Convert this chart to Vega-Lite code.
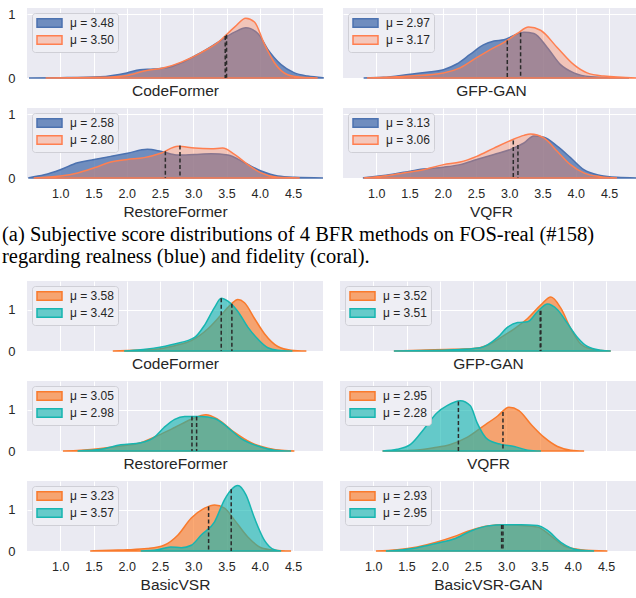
{
  "$schema": "https://vega.github.io/schema/vega-lite/v6.json",
  "background": "white",
  "padding": {"left": 2, "top": 8, "right": 0, "bottom": 0},
  "autosize": {"type": "pad"},
  "config": {
    "view": {"fill": "#eaeaf2", "stroke": null},
    "axis": {"domain": false, "ticks": false, "gridColor": "#ffffff", "gridWidth": 1, "labelFont": "Liberation Sans", "labelFontSize": 12.5, "labelColor": "#262626", "titleFont": "Liberation Sans", "titleFontSize": 15.5, "titleFontWeight": "normal", "titleColor": "#262626"},
    "axisX": {"labelPadding": 9, "titlePadding": 5},
    "axisY": {"labelPadding": 12, "labelFontSize": 13, "format": "d", "minExtent": 0},
    "legend": {"orient": "top-left", "offset": 5, "padding": 4, "fillColor": "#eeeef4", "strokeColor": "#cfcfd6", "cornerRadius": 3, "symbolType": "M-1,-0.85H4V0.85H-1Z", "symbolSize": 100, "symbolStrokeWidth": 1.5, "labelFont": "Liberation Sans", "labelFontSize": 12, "labelColor": "#262626", "labelOffset": 22, "rowPadding": 1},
    "title": {"font": "Liberation Serif", "fontSize": 20.5, "fontWeight": "normal", "color": "#000000"}
  },
  "datasets": {
    "curves": [
      {"p":"a1","o":1,"lab":"μ = 3.48","x":0.53,"y":0},{"p":"a1","o":1,"lab":"μ = 3.48","x":1.0,"y":0.005},{"p":"a1","o":1,"lab":"μ = 3.48","x":1.6,"y":0.02},{"p":"a1","o":1,"lab":"μ = 3.48","x":2.0,"y":0.08},{"p":"a1","o":1,"lab":"μ = 3.48","x":2.2,"y":0.13},{"p":"a1","o":1,"lab":"μ = 3.48","x":2.4,"y":0.14},{"p":"a1","o":1,"lab":"μ = 3.48","x":2.6,"y":0.16},{"p":"a1","o":1,"lab":"μ = 3.48","x":2.8,"y":0.23},{"p":"a1","o":1,"lab":"μ = 3.48","x":3.1,"y":0.39},{"p":"a1","o":1,"lab":"μ = 3.48","x":3.37,"y":0.56},{"p":"a1","o":1,"lab":"μ = 3.48","x":3.62,"y":0.72},{"p":"a1","o":1,"lab":"μ = 3.48","x":3.79,"y":0.79},{"p":"a1","o":1,"lab":"μ = 3.48","x":3.97,"y":0.70},{"p":"a1","o":1,"lab":"μ = 3.48","x":4.12,"y":0.45},{"p":"a1","o":1,"lab":"μ = 3.48","x":4.32,"y":0.21},{"p":"a1","o":1,"lab":"μ = 3.48","x":4.52,"y":0.08},{"p":"a1","o":1,"lab":"μ = 3.48","x":4.72,"y":0.03},{"p":"a1","o":1,"lab":"μ = 3.48","x":4.95,"y":0.005},
      {"p":"a1","o":2,"lab":"μ = 3.50","x":0.78,"y":0},{"p":"a1","o":2,"lab":"μ = 3.50","x":1.6,"y":0.01},{"p":"a1","o":2,"lab":"μ = 3.50","x":2.0,"y":0.04},{"p":"a1","o":2,"lab":"μ = 3.50","x":2.26,"y":0.11},{"p":"a1","o":2,"lab":"μ = 3.50","x":2.56,"y":0.16},{"p":"a1","o":2,"lab":"μ = 3.50","x":2.82,"y":0.25},{"p":"a1","o":2,"lab":"μ = 3.50","x":3.12,"y":0.40},{"p":"a1","o":2,"lab":"μ = 3.50","x":3.37,"y":0.56},{"p":"a1","o":2,"lab":"μ = 3.50","x":3.62,"y":0.80},{"p":"a1","o":2,"lab":"μ = 3.50","x":3.79,"y":0.94},{"p":"a1","o":2,"lab":"μ = 3.50","x":3.92,"y":0.88},{"p":"a1","o":2,"lab":"μ = 3.50","x":4.07,"y":0.53},{"p":"a1","o":2,"lab":"μ = 3.50","x":4.22,"y":0.24},{"p":"a1","o":2,"lab":"μ = 3.50","x":4.42,"y":0.05},{"p":"a1","o":2,"lab":"μ = 3.50","x":4.62,"y":0.01},{"p":"a1","o":2,"lab":"μ = 3.50","x":4.87,"y":0},

      {"p":"a2","o":1,"lab":"μ = 2.58","x":0.53,"y":0.005},{"p":"a2","o":1,"lab":"μ = 2.58","x":0.76,"y":0.05},{"p":"a2","o":1,"lab":"μ = 2.58","x":1.0,"y":0.13},{"p":"a2","o":1,"lab":"μ = 2.58","x":1.26,"y":0.24},{"p":"a2","o":1,"lab":"μ = 2.58","x":1.51,"y":0.29},{"p":"a2","o":1,"lab":"μ = 2.58","x":1.76,"y":0.34},{"p":"a2","o":1,"lab":"μ = 2.58","x":2.01,"y":0.39},{"p":"a2","o":1,"lab":"μ = 2.58","x":2.31,"y":0.45},{"p":"a2","o":1,"lab":"μ = 2.58","x":2.51,"y":0.42},{"p":"a2","o":1,"lab":"μ = 2.58","x":2.77,"y":0.36},{"p":"a2","o":1,"lab":"μ = 2.58","x":3.02,"y":0.37},{"p":"a2","o":1,"lab":"μ = 2.58","x":3.27,"y":0.38},{"p":"a2","o":1,"lab":"μ = 2.58","x":3.52,"y":0.36},{"p":"a2","o":1,"lab":"μ = 2.58","x":3.77,"y":0.24},{"p":"a2","o":1,"lab":"μ = 2.58","x":4.02,"y":0.11},{"p":"a2","o":1,"lab":"μ = 2.58","x":4.27,"y":0.03},{"p":"a2","o":1,"lab":"μ = 2.58","x":4.52,"y":0.01},{"p":"a2","o":1,"lab":"μ = 2.58","x":4.95,"y":0},
      {"p":"a2","o":2,"lab":"μ = 2.80","x":0.6,"y":0},{"p":"a2","o":2,"lab":"μ = 2.80","x":1.0,"y":0.03},{"p":"a2","o":2,"lab":"μ = 2.80","x":1.26,"y":0.08},{"p":"a2","o":2,"lab":"μ = 2.80","x":1.51,"y":0.16},{"p":"a2","o":2,"lab":"μ = 2.80","x":1.76,"y":0.25},{"p":"a2","o":2,"lab":"μ = 2.80","x":2.01,"y":0.29},{"p":"a2","o":2,"lab":"μ = 2.80","x":2.26,"y":0.32},{"p":"a2","o":2,"lab":"μ = 2.80","x":2.51,"y":0.39},{"p":"a2","o":2,"lab":"μ = 2.80","x":2.77,"y":0.50},{"p":"a2","o":2,"lab":"μ = 2.80","x":3.02,"y":0.47},{"p":"a2","o":2,"lab":"μ = 2.80","x":3.27,"y":0.46},{"p":"a2","o":2,"lab":"μ = 2.80","x":3.44,"y":0.47},{"p":"a2","o":2,"lab":"μ = 2.80","x":3.62,"y":0.37},{"p":"a2","o":2,"lab":"μ = 2.80","x":3.82,"y":0.21},{"p":"a2","o":2,"lab":"μ = 2.80","x":4.02,"y":0.08},{"p":"a2","o":2,"lab":"μ = 2.80","x":4.27,"y":0.01},{"p":"a2","o":2,"lab":"μ = 2.80","x":4.6,"y":0},

      {"p":"a3","o":1,"lab":"μ = 2.97","x":0.81,"y":0},{"p":"a3","o":1,"lab":"μ = 2.97","x":1.11,"y":0.01},{"p":"a3","o":1,"lab":"μ = 2.97","x":1.51,"y":0.06},{"p":"a3","o":1,"lab":"μ = 2.97","x":1.76,"y":0.09},{"p":"a3","o":1,"lab":"μ = 2.97","x":2.01,"y":0.13},{"p":"a3","o":1,"lab":"μ = 2.97","x":2.21,"y":0.22},{"p":"a3","o":1,"lab":"μ = 2.97","x":2.41,"y":0.37},{"p":"a3","o":1,"lab":"μ = 2.97","x":2.61,"y":0.52},{"p":"a3","o":1,"lab":"μ = 2.97","x":2.77,"y":0.58},{"p":"a3","o":1,"lab":"μ = 2.97","x":2.92,"y":0.60},{"p":"a3","o":1,"lab":"μ = 2.97","x":3.07,"y":0.67},{"p":"a3","o":1,"lab":"μ = 2.97","x":3.22,"y":0.72},{"p":"a3","o":1,"lab":"μ = 2.97","x":3.37,"y":0.70},{"p":"a3","o":1,"lab":"μ = 2.97","x":3.57,"y":0.48},{"p":"a3","o":1,"lab":"μ = 2.97","x":3.77,"y":0.21},{"p":"a3","o":1,"lab":"μ = 2.97","x":3.97,"y":0.08},{"p":"a3","o":1,"lab":"μ = 2.97","x":4.22,"y":0.02},{"p":"a3","o":1,"lab":"μ = 2.97","x":4.6,"y":0.005},{"p":"a3","o":1,"lab":"μ = 2.97","x":4.8,"y":0},
      {"p":"a3","o":2,"lab":"μ = 3.17","x":0.86,"y":0},{"p":"a3","o":2,"lab":"μ = 3.17","x":1.51,"y":0.03},{"p":"a3","o":2,"lab":"μ = 3.17","x":2.01,"y":0.08},{"p":"a3","o":2,"lab":"μ = 3.17","x":2.26,"y":0.16},{"p":"a3","o":2,"lab":"μ = 3.17","x":2.51,"y":0.32},{"p":"a3","o":2,"lab":"μ = 3.17","x":2.72,"y":0.45},{"p":"a3","o":2,"lab":"μ = 3.17","x":2.92,"y":0.56},{"p":"a3","o":2,"lab":"μ = 3.17","x":3.12,"y":0.70},{"p":"a3","o":2,"lab":"μ = 3.17","x":3.29,"y":0.80},{"p":"a3","o":2,"lab":"μ = 3.17","x":3.47,"y":0.75},{"p":"a3","o":2,"lab":"μ = 3.17","x":3.72,"y":0.48},{"p":"a3","o":2,"lab":"μ = 3.17","x":3.97,"y":0.21},{"p":"a3","o":2,"lab":"μ = 3.17","x":4.17,"y":0.08},{"p":"a3","o":2,"lab":"μ = 3.17","x":4.42,"y":0.03},{"p":"a3","o":2,"lab":"μ = 3.17","x":4.92,"y":0},

      {"p":"a4","o":1,"lab":"μ = 3.13","x":0.81,"y":0.005},{"p":"a4","o":1,"lab":"μ = 3.13","x":0.95,"y":0.02},{"p":"a4","o":1,"lab":"μ = 3.13","x":1.11,"y":0.04},{"p":"a4","o":1,"lab":"μ = 3.13","x":1.41,"y":0.09},{"p":"a4","o":1,"lab":"μ = 3.13","x":1.71,"y":0.14},{"p":"a4","o":1,"lab":"μ = 3.13","x":2.01,"y":0.17},{"p":"a4","o":1,"lab":"μ = 3.13","x":2.26,"y":0.21},{"p":"a4","o":1,"lab":"μ = 3.13","x":2.51,"y":0.29},{"p":"a4","o":1,"lab":"μ = 3.13","x":2.77,"y":0.37},{"p":"a4","o":1,"lab":"μ = 3.13","x":3.02,"y":0.45},{"p":"a4","o":1,"lab":"μ = 3.13","x":3.22,"y":0.55},{"p":"a4","o":1,"lab":"μ = 3.13","x":3.37,"y":0.66},{"p":"a4","o":1,"lab":"μ = 3.13","x":3.52,"y":0.64},{"p":"a4","o":1,"lab":"μ = 3.13","x":3.72,"y":0.50},{"p":"a4","o":1,"lab":"μ = 3.13","x":3.92,"y":0.32},{"p":"a4","o":1,"lab":"μ = 3.13","x":4.12,"y":0.13},{"p":"a4","o":1,"lab":"μ = 3.13","x":4.37,"y":0.04},{"p":"a4","o":1,"lab":"μ = 3.13","x":4.62,"y":0.01},{"p":"a4","o":1,"lab":"μ = 3.13","x":4.95,"y":0},
      {"p":"a4","o":2,"lab":"μ = 3.06","x":0.81,"y":0},{"p":"a4","o":2,"lab":"μ = 3.06","x":1.11,"y":0.03},{"p":"a4","o":2,"lab":"μ = 3.06","x":1.41,"y":0.08},{"p":"a4","o":2,"lab":"μ = 3.06","x":1.71,"y":0.13},{"p":"a4","o":2,"lab":"μ = 3.06","x":2.01,"y":0.21},{"p":"a4","o":2,"lab":"μ = 3.06","x":2.26,"y":0.25},{"p":"a4","o":2,"lab":"μ = 3.06","x":2.51,"y":0.34},{"p":"a4","o":2,"lab":"μ = 3.06","x":2.77,"y":0.47},{"p":"a4","o":2,"lab":"μ = 3.06","x":3.02,"y":0.59},{"p":"a4","o":2,"lab":"μ = 3.06","x":3.22,"y":0.67},{"p":"a4","o":2,"lab":"μ = 3.06","x":3.32,"y":0.69},{"p":"a4","o":2,"lab":"μ = 3.06","x":3.52,"y":0.63},{"p":"a4","o":2,"lab":"μ = 3.06","x":3.72,"y":0.42},{"p":"a4","o":2,"lab":"μ = 3.06","x":3.92,"y":0.21},{"p":"a4","o":2,"lab":"μ = 3.06","x":4.12,"y":0.08},{"p":"a4","o":2,"lab":"μ = 3.06","x":4.37,"y":0.02},{"p":"a4","o":2,"lab":"μ = 3.06","x":4.62,"y":0},

      {"p":"b1","o":1,"lab":"μ = 3.58","x":1.79,"y":0},{"p":"b1","o":1,"lab":"μ = 3.58","x":2.11,"y":0.02},{"p":"b1","o":1,"lab":"μ = 3.58","x":2.41,"y":0.04},{"p":"b1","o":1,"lab":"μ = 3.58","x":2.72,"y":0.13},{"p":"b1","o":1,"lab":"μ = 3.58","x":2.97,"y":0.25},{"p":"b1","o":1,"lab":"μ = 3.58","x":3.22,"y":0.54},{"p":"b1","o":1,"lab":"μ = 3.58","x":3.42,"y":0.88},{"p":"b1","o":1,"lab":"μ = 3.58","x":3.57,"y":1.14},{"p":"b1","o":1,"lab":"μ = 3.58","x":3.67,"y":1.25},{"p":"b1","o":1,"lab":"μ = 3.58","x":3.77,"y":1.17},{"p":"b1","o":1,"lab":"μ = 3.58","x":3.92,"y":0.79},{"p":"b1","o":1,"lab":"μ = 3.58","x":4.07,"y":0.42},{"p":"b1","o":1,"lab":"μ = 3.58","x":4.27,"y":0.11},{"p":"b1","o":1,"lab":"μ = 3.58","x":4.47,"y":0.02},{"p":"b1","o":1,"lab":"μ = 3.58","x":4.7,"y":0},
      {"p":"b1","o":2,"lab":"μ = 3.42","x":1.96,"y":0},{"p":"b1","o":2,"lab":"μ = 3.42","x":2.21,"y":0.03},{"p":"b1","o":2,"lab":"μ = 3.42","x":2.41,"y":0.07},{"p":"b1","o":2,"lab":"μ = 3.42","x":2.72,"y":0.17},{"p":"b1","o":2,"lab":"μ = 3.42","x":3.02,"y":0.33},{"p":"b1","o":2,"lab":"μ = 3.42","x":3.17,"y":0.63},{"p":"b1","o":2,"lab":"μ = 3.42","x":3.32,"y":1.06},{"p":"b1","o":2,"lab":"μ = 3.42","x":3.42,"y":1.28},{"p":"b1","o":2,"lab":"μ = 3.42","x":3.52,"y":1.21},{"p":"b1","o":2,"lab":"μ = 3.42","x":3.67,"y":0.96},{"p":"b1","o":2,"lab":"μ = 3.42","x":3.82,"y":0.58},{"p":"b1","o":2,"lab":"μ = 3.42","x":3.97,"y":0.29},{"p":"b1","o":2,"lab":"μ = 3.42","x":4.12,"y":0.08},{"p":"b1","o":2,"lab":"μ = 3.42","x":4.27,"y":0.02},{"p":"b1","o":2,"lab":"μ = 3.42","x":4.49,"y":0},

      {"p":"b2","o":1,"lab":"μ = 3.05","x":1.04,"y":0},{"p":"b2","o":1,"lab":"μ = 3.05","x":1.31,"y":0.02},{"p":"b2","o":1,"lab":"μ = 3.05","x":1.61,"y":0.06},{"p":"b2","o":1,"lab":"μ = 3.05","x":1.91,"y":0.12},{"p":"b2","o":1,"lab":"μ = 3.05","x":2.21,"y":0.20},{"p":"b2","o":1,"lab":"μ = 3.05","x":2.46,"y":0.37},{"p":"b2","o":1,"lab":"μ = 3.05","x":2.72,"y":0.57},{"p":"b2","o":1,"lab":"μ = 3.05","x":2.97,"y":0.77},{"p":"b2","o":1,"lab":"μ = 3.05","x":3.19,"y":0.88},{"p":"b2","o":1,"lab":"μ = 3.05","x":3.37,"y":0.77},{"p":"b2","o":1,"lab":"μ = 3.05","x":3.62,"y":0.45},{"p":"b2","o":1,"lab":"μ = 3.05","x":3.87,"y":0.20},{"p":"b2","o":1,"lab":"μ = 3.05","x":4.12,"y":0.07},{"p":"b2","o":1,"lab":"μ = 3.05","x":4.37,"y":0.01},{"p":"b2","o":1,"lab":"μ = 3.05","x":4.52,"y":0},
      {"p":"b2","o":2,"lab":"μ = 2.98","x":1.26,"y":0},{"p":"b2","o":2,"lab":"μ = 2.98","x":1.61,"y":0.04},{"p":"b2","o":2,"lab":"μ = 2.98","x":1.91,"y":0.15},{"p":"b2","o":2,"lab":"μ = 2.98","x":2.21,"y":0.20},{"p":"b2","o":2,"lab":"μ = 2.98","x":2.41,"y":0.33},{"p":"b2","o":2,"lab":"μ = 2.98","x":2.56,"y":0.57},{"p":"b2","o":2,"lab":"μ = 2.98","x":2.72,"y":0.77},{"p":"b2","o":2,"lab":"μ = 2.98","x":2.87,"y":0.84},{"p":"b2","o":2,"lab":"μ = 2.98","x":3.12,"y":0.84},{"p":"b2","o":2,"lab":"μ = 2.98","x":3.32,"y":0.79},{"p":"b2","o":2,"lab":"μ = 2.98","x":3.52,"y":0.57},{"p":"b2","o":2,"lab":"μ = 2.98","x":3.72,"y":0.30},{"p":"b2","o":2,"lab":"μ = 2.98","x":3.97,"y":0.12},{"p":"b2","o":2,"lab":"μ = 2.98","x":4.22,"y":0.02},{"p":"b2","o":2,"lab":"μ = 2.98","x":4.47,"y":0},

      {"p":"b3","o":1,"lab":"μ = 3.52","x":1.31,"y":0},{"p":"b3","o":1,"lab":"μ = 3.52","x":1.71,"y":0.02},{"p":"b3","o":1,"lab":"μ = 3.52","x":2.21,"y":0.04},{"p":"b3","o":1,"lab":"μ = 3.52","x":2.51,"y":0.06},{"p":"b3","o":1,"lab":"μ = 3.52","x":2.72,"y":0.14},{"p":"b3","o":1,"lab":"μ = 3.52","x":2.92,"y":0.33},{"p":"b3","o":1,"lab":"μ = 3.52","x":3.12,"y":0.54},{"p":"b3","o":1,"lab":"μ = 3.52","x":3.32,"y":0.79},{"p":"b3","o":1,"lab":"μ = 3.52","x":3.52,"y":1.12},{"p":"b3","o":1,"lab":"μ = 3.52","x":3.67,"y":1.31},{"p":"b3","o":1,"lab":"μ = 3.52","x":3.82,"y":1.04},{"p":"b3","o":1,"lab":"μ = 3.52","x":3.97,"y":0.54},{"p":"b3","o":1,"lab":"μ = 3.52","x":4.12,"y":0.17},{"p":"b3","o":1,"lab":"μ = 3.52","x":4.32,"y":0.03},{"p":"b3","o":1,"lab":"μ = 3.52","x":4.57,"y":0},
      {"p":"b3","o":2,"lab":"μ = 3.51","x":1.31,"y":0},{"p":"b3","o":2,"lab":"μ = 3.51","x":2.21,"y":0.03},{"p":"b3","o":2,"lab":"μ = 3.51","x":2.61,"y":0.08},{"p":"b3","o":2,"lab":"μ = 3.51","x":2.87,"y":0.33},{"p":"b3","o":2,"lab":"μ = 3.51","x":3.02,"y":0.58},{"p":"b3","o":2,"lab":"μ = 3.51","x":3.17,"y":0.69},{"p":"b3","o":2,"lab":"μ = 3.51","x":3.32,"y":0.71},{"p":"b3","o":2,"lab":"μ = 3.51","x":3.47,"y":0.96},{"p":"b3","o":2,"lab":"μ = 3.51","x":3.62,"y":1.14},{"p":"b3","o":2,"lab":"μ = 3.51","x":3.77,"y":1.0},{"p":"b3","o":2,"lab":"μ = 3.51","x":3.92,"y":0.67},{"p":"b3","o":2,"lab":"μ = 3.51","x":4.07,"y":0.33},{"p":"b3","o":2,"lab":"μ = 3.51","x":4.22,"y":0.11},{"p":"b3","o":2,"lab":"μ = 3.51","x":4.42,"y":0.02},{"p":"b3","o":2,"lab":"μ = 3.51","x":4.57,"y":0},

      {"p":"b4","o":1,"lab":"μ = 2.95","x":1.14,"y":0},{"p":"b4","o":1,"lab":"μ = 2.95","x":1.61,"y":0.02},{"p":"b4","o":1,"lab":"μ = 2.95","x":1.91,"y":0.08},{"p":"b4","o":1,"lab":"μ = 2.95","x":2.16,"y":0.16},{"p":"b4","o":1,"lab":"μ = 2.95","x":2.41,"y":0.33},{"p":"b4","o":1,"lab":"μ = 2.95","x":2.66,"y":0.61},{"p":"b4","o":1,"lab":"μ = 2.95","x":2.87,"y":0.85},{"p":"b4","o":1,"lab":"μ = 2.95","x":3.04,"y":1.06},{"p":"b4","o":1,"lab":"μ = 2.95","x":3.19,"y":0.98},{"p":"b4","o":1,"lab":"μ = 2.95","x":3.37,"y":0.65},{"p":"b4","o":1,"lab":"μ = 2.95","x":3.57,"y":0.33},{"p":"b4","o":1,"lab":"μ = 2.95","x":3.77,"y":0.11},{"p":"b4","o":1,"lab":"μ = 2.95","x":3.97,"y":0.02},{"p":"b4","o":1,"lab":"μ = 2.95","x":4.17,"y":0},
      {"p":"b4","o":2,"lab":"μ = 2.28","x":1.14,"y":0},{"p":"b4","o":2,"lab":"μ = 2.28","x":1.36,"y":0.04},{"p":"b4","o":2,"lab":"μ = 2.28","x":1.56,"y":0.16},{"p":"b4","o":2,"lab":"μ = 2.28","x":1.76,"y":0.53},{"p":"b4","o":2,"lab":"μ = 2.28","x":1.96,"y":0.93},{"p":"b4","o":2,"lab":"μ = 2.28","x":2.11,"y":1.10},{"p":"b4","o":2,"lab":"μ = 2.28","x":2.31,"y":1.22},{"p":"b4","o":2,"lab":"μ = 2.28","x":2.46,"y":1.10},{"p":"b4","o":2,"lab":"μ = 2.28","x":2.56,"y":0.69},{"p":"b4","o":2,"lab":"μ = 2.28","x":2.72,"y":0.28},{"p":"b4","o":2,"lab":"μ = 2.28","x":2.92,"y":0.16},{"p":"b4","o":2,"lab":"μ = 2.28","x":3.12,"y":0.11},{"p":"b4","o":2,"lab":"μ = 2.28","x":3.32,"y":0.02},{"p":"b4","o":2,"lab":"μ = 2.28","x":3.52,"y":0},

      {"p":"b5","o":1,"lab":"μ = 3.23","x":1.45,"y":0},{"p":"b5","o":1,"lab":"μ = 3.23","x":1.76,"y":0.02},{"p":"b5","o":1,"lab":"μ = 3.23","x":2.01,"y":0.03},{"p":"b5","o":1,"lab":"μ = 3.23","x":2.31,"y":0.06},{"p":"b5","o":1,"lab":"μ = 3.23","x":2.56,"y":0.14},{"p":"b5","o":1,"lab":"μ = 3.23","x":2.77,"y":0.39},{"p":"b5","o":1,"lab":"μ = 3.23","x":2.97,"y":0.80},{"p":"b5","o":1,"lab":"μ = 3.23","x":3.17,"y":1.04},{"p":"b5","o":1,"lab":"μ = 3.23","x":3.32,"y":1.12},{"p":"b5","o":1,"lab":"μ = 3.23","x":3.47,"y":1.04},{"p":"b5","o":1,"lab":"μ = 3.23","x":3.62,"y":0.75},{"p":"b5","o":1,"lab":"μ = 3.23","x":3.82,"y":0.34},{"p":"b5","o":1,"lab":"μ = 3.23","x":4.02,"y":0.08},{"p":"b5","o":1,"lab":"μ = 3.23","x":4.22,"y":0.02},{"p":"b5","o":1,"lab":"μ = 3.23","x":4.47,"y":0},
      {"p":"b5","o":2,"lab":"μ = 3.57","x":2.21,"y":0},{"p":"b5","o":2,"lab":"μ = 3.57","x":2.46,"y":0.03},{"p":"b5","o":2,"lab":"μ = 3.57","x":2.66,"y":0.10},{"p":"b5","o":2,"lab":"μ = 3.57","x":2.82,"y":0.08},{"p":"b5","o":2,"lab":"μ = 3.57","x":2.97,"y":0.14},{"p":"b5","o":2,"lab":"μ = 3.57","x":3.12,"y":0.39},{"p":"b5","o":2,"lab":"μ = 3.57","x":3.32,"y":0.71},{"p":"b5","o":2,"lab":"μ = 3.57","x":3.47,"y":1.25},{"p":"b5","o":2,"lab":"μ = 3.57","x":3.57,"y":1.49},{"p":"b5","o":2,"lab":"μ = 3.57","x":3.67,"y":1.59},{"p":"b5","o":2,"lab":"μ = 3.57","x":3.79,"y":1.37},{"p":"b5","o":2,"lab":"μ = 3.57","x":3.92,"y":0.80},{"p":"b5","o":2,"lab":"μ = 3.57","x":4.07,"y":0.26},{"p":"b5","o":2,"lab":"μ = 3.57","x":4.22,"y":0.03},{"p":"b5","o":2,"lab":"μ = 3.57","x":4.32,"y":0},

      {"p":"b6","o":1,"lab":"μ = 2.93","x":1.04,"y":0},{"p":"b6","o":1,"lab":"μ = 2.93","x":1.36,"y":0.03},{"p":"b6","o":1,"lab":"μ = 2.93","x":1.66,"y":0.10},{"p":"b6","o":1,"lab":"μ = 2.93","x":1.96,"y":0.22},{"p":"b6","o":1,"lab":"μ = 2.93","x":2.21,"y":0.35},{"p":"b6","o":1,"lab":"μ = 2.93","x":2.46,"y":0.50},{"p":"b6","o":1,"lab":"μ = 2.93","x":2.72,"y":0.61},{"p":"b6","o":1,"lab":"μ = 2.93","x":2.97,"y":0.64},{"p":"b6","o":1,"lab":"μ = 2.93","x":3.22,"y":0.62},{"p":"b6","o":1,"lab":"μ = 2.93","x":3.47,"y":0.58},{"p":"b6","o":1,"lab":"μ = 2.93","x":3.67,"y":0.37},{"p":"b6","o":1,"lab":"μ = 2.93","x":3.87,"y":0.12},{"p":"b6","o":1,"lab":"μ = 2.93","x":4.12,"y":0.03},{"p":"b6","o":1,"lab":"μ = 2.93","x":4.52,"y":0},
      {"p":"b6","o":2,"lab":"μ = 2.95","x":1.19,"y":0},{"p":"b6","o":2,"lab":"μ = 2.95","x":1.36,"y":0.02},{"p":"b6","o":2,"lab":"μ = 2.95","x":1.66,"y":0.08},{"p":"b6","o":2,"lab":"μ = 2.95","x":1.96,"y":0.19},{"p":"b6","o":2,"lab":"μ = 2.95","x":2.21,"y":0.29},{"p":"b6","o":2,"lab":"μ = 2.95","x":2.46,"y":0.48},{"p":"b6","o":2,"lab":"μ = 2.95","x":2.72,"y":0.61},{"p":"b6","o":2,"lab":"μ = 2.95","x":2.97,"y":0.64},{"p":"b6","o":2,"lab":"μ = 2.95","x":3.22,"y":0.64},{"p":"b6","o":2,"lab":"μ = 2.95","x":3.47,"y":0.62},{"p":"b6","o":2,"lab":"μ = 2.95","x":3.62,"y":0.50},{"p":"b6","o":2,"lab":"μ = 2.95","x":3.82,"y":0.21},{"p":"b6","o":2,"lab":"μ = 2.95","x":4.07,"y":0.03},{"p":"b6","o":2,"lab":"μ = 2.95","x":4.32,"y":0}
    ],
    "means": [
      {"p":"a1","o":1,"m":3.48,"h":0.66},{"p":"a1","o":2,"m":3.50,"h":0.68},
      {"p":"a2","o":1,"m":2.58,"h":0.42},{"p":"a2","o":2,"m":2.80,"h":0.51},
      {"p":"a3","o":1,"m":2.97,"h":0.59},{"p":"a3","o":2,"m":3.17,"h":0.71},
      {"p":"a4","o":1,"m":3.13,"h":0.52},{"p":"a4","o":2,"m":3.06,"h":0.59},
      {"p":"b1","o":1,"m":3.58,"h":1.15},{"p":"b1","o":2,"m":3.42,"h":1.28},
      {"p":"b2","o":1,"m":3.05,"h":0.84},{"p":"b2","o":2,"m":2.98,"h":0.84},
      {"p":"b3","o":1,"m":3.52,"h":0.98},{"p":"b3","o":2,"m":3.51,"h":0.97},
      {"p":"b4","o":1,"m":2.95,"h":0.95},{"p":"b4","o":2,"m":2.28,"h":1.2},
      {"p":"b5","o":1,"m":3.23,"h":1.08},{"p":"b5","o":2,"m":3.57,"h":1.5},
      {"p":"b6","o":1,"m":2.93,"h":0.63},{"p":"b6","o":2,"m":2.95,"h":0.63}
    ]
  },
  "resolve": {"scale": {"fill": "independent", "stroke": "independent"}},
  "spacing": 13,
  "vconcat": [
    {
      "spacing": 9,
      "resolve": {"scale": {"fill": "independent", "stroke": "independent"}},
      "title": {"text": ["(a) Subjective score distributions of 4 BFR methods on FOS-real (#158)", "regarding realness (blue) and fidelity (coral)."], "orient": "bottom", "anchor": "start", "frame": "group", "dx": -25, "offset": 5, "lineHeight": 22},
      "vconcat": [
        {
          "spacing": 17,
          "resolve": {"scale": {"fill": "independent", "stroke": "independent"}},
          "hconcat": [
            {"width": 296, "height": 70, "layer": [
              {"data": {"name": "curves"}, "transform": [{"filter": "datum.p == 'a1'"}], "mark": {"type": "area", "interpolate": "monotone", "strokeWidth": 1.5}, "encoding": {
                "x": {"field": "x", "type": "quantitative", "scale": {"domain": [0.5, 4.95], "nice": false, "zero": false}, "axis": {"title": "CodeFormer", "values": [1, 1.5, 2, 2.5, 3, 3.5, 4, 4.5], "format": ".1f", "labels": false}},
                "y": {"field": "y", "type": "quantitative", "stack": null, "scale": {"domain": [0, 1.1], "nice": false}, "axis": {"title": null, "values": [0, 1], "labels": true}},
                "fill": {"field": "lab", "type": "nominal", "sort": {"field": "o", "op": "min"}, "scale": {"range": ["rgba(76,114,176,0.78)", "rgba(255,127,80,0.35)"]}, "legend": {"title": null}},
                "stroke": {"field": "lab", "type": "nominal", "sort": {"field": "o", "op": "min"}, "scale": {"range": ["#4c72b0", "#ff7f50"]}, "legend": {"title": null}}}},
              {"data": {"name": "means"}, "transform": [{"filter": "datum.p == 'a1'"}], "mark": {"type": "rule", "color": "#2b2b2b", "strokeWidth": 1.5, "strokeDash": [4, 2.5]}, "encoding": {"x": {"field": "m", "type": "quantitative"}, "y": {"field": "h", "type": "quantitative"}, "y2": {"datum": 0}}}
            ]},
            {"width": 296, "height": 70, "layer": [
              {"data": {"name": "curves"}, "transform": [{"filter": "datum.p == 'a3'"}], "mark": {"type": "area", "interpolate": "monotone", "strokeWidth": 1.5}, "encoding": {
                "x": {"field": "x", "type": "quantitative", "scale": {"domain": [0.5, 4.95], "nice": false, "zero": false}, "axis": {"title": "GFP-GAN", "values": [1, 1.5, 2, 2.5, 3, 3.5, 4, 4.5], "format": ".1f", "labels": false}},
                "y": {"field": "y", "type": "quantitative", "stack": null, "scale": {"domain": [0, 1.1], "nice": false}, "axis": {"title": null, "values": [0, 1], "labels": false}},
                "fill": {"field": "lab", "type": "nominal", "sort": {"field": "o", "op": "min"}, "scale": {"range": ["rgba(76,114,176,0.78)", "rgba(255,127,80,0.35)"]}, "legend": {"title": null}},
                "stroke": {"field": "lab", "type": "nominal", "sort": {"field": "o", "op": "min"}, "scale": {"range": ["#4c72b0", "#ff7f50"]}, "legend": {"title": null}}}},
              {"data": {"name": "means"}, "transform": [{"filter": "datum.p == 'a3'"}], "mark": {"type": "rule", "color": "#2b2b2b", "strokeWidth": 1.5, "strokeDash": [4, 2.5]}, "encoding": {"x": {"field": "m", "type": "quantitative"}, "y": {"field": "h", "type": "quantitative"}, "y2": {"datum": 0}}}
            ]}
          ]
        },
        {
          "spacing": 17,
          "resolve": {"scale": {"fill": "independent", "stroke": "independent"}},
          "hconcat": [
            {"width": 296, "height": 70, "layer": [
              {"data": {"name": "curves"}, "transform": [{"filter": "datum.p == 'a2'"}], "mark": {"type": "area", "interpolate": "monotone", "strokeWidth": 1.5}, "encoding": {
                "x": {"field": "x", "type": "quantitative", "scale": {"domain": [0.5, 4.95], "nice": false, "zero": false}, "axis": {"title": "RestoreFormer", "values": [1, 1.5, 2, 2.5, 3, 3.5, 4, 4.5], "format": ".1f", "labels": true}},
                "y": {"field": "y", "type": "quantitative", "stack": null, "scale": {"domain": [0, 1.1], "nice": false}, "axis": {"title": null, "values": [0, 1], "labels": true}},
                "fill": {"field": "lab", "type": "nominal", "sort": {"field": "o", "op": "min"}, "scale": {"range": ["rgba(76,114,176,0.78)", "rgba(255,127,80,0.35)"]}, "legend": {"title": null}},
                "stroke": {"field": "lab", "type": "nominal", "sort": {"field": "o", "op": "min"}, "scale": {"range": ["#4c72b0", "#ff7f50"]}, "legend": {"title": null}}}},
              {"data": {"name": "means"}, "transform": [{"filter": "datum.p == 'a2'"}], "mark": {"type": "rule", "color": "#2b2b2b", "strokeWidth": 1.5, "strokeDash": [4, 2.5]}, "encoding": {"x": {"field": "m", "type": "quantitative"}, "y": {"field": "h", "type": "quantitative"}, "y2": {"datum": 0}}}
            ]},
            {"width": 296, "height": 70, "layer": [
              {"data": {"name": "curves"}, "transform": [{"filter": "datum.p == 'a4'"}], "mark": {"type": "area", "interpolate": "monotone", "strokeWidth": 1.5}, "encoding": {
                "x": {"field": "x", "type": "quantitative", "scale": {"domain": [0.5, 4.95], "nice": false, "zero": false}, "axis": {"title": "VQFR", "values": [1, 1.5, 2, 2.5, 3, 3.5, 4, 4.5], "format": ".1f", "labels": true}},
                "y": {"field": "y", "type": "quantitative", "stack": null, "scale": {"domain": [0, 1.1], "nice": false}, "axis": {"title": null, "values": [0, 1], "labels": false}},
                "fill": {"field": "lab", "type": "nominal", "sort": {"field": "o", "op": "min"}, "scale": {"range": ["rgba(76,114,176,0.78)", "rgba(255,127,80,0.35)"]}, "legend": {"title": null}},
                "stroke": {"field": "lab", "type": "nominal", "sort": {"field": "o", "op": "min"}, "scale": {"range": ["#4c72b0", "#ff7f50"]}, "legend": {"title": null}}}},
              {"data": {"name": "means"}, "transform": [{"filter": "datum.p == 'a4'"}], "mark": {"type": "rule", "color": "#2b2b2b", "strokeWidth": 1.5, "strokeDash": [4, 2.5]}, "encoding": {"x": {"field": "m", "type": "quantitative"}, "y": {"field": "h", "type": "quantitative"}, "y2": {"datum": 0}}}
            ]}
          ]
        }
      ]
    },
    {
      "spacing": 9,
      "resolve": {"scale": {"fill": "independent", "stroke": "independent"}},
      "vconcat": [
        {
          "spacing": 17,
          "resolve": {"scale": {"fill": "independent", "stroke": "independent"}},
          "hconcat": [
            {"width": 296, "height": 70, "layer": [
              {"data": {"name": "curves"}, "transform": [{"filter": "datum.p == 'b1'"}], "mark": {"type": "area", "interpolate": "monotone", "strokeWidth": 1.5}, "encoding": {
                "x": {"field": "x", "type": "quantitative", "scale": {"domain": [0.5, 4.95], "nice": false, "zero": false}, "axis": {"title": "CodeFormer", "values": [1, 1.5, 2, 2.5, 3, 3.5, 4, 4.5], "format": ".1f", "labels": false}},
                "y": {"field": "y", "type": "quantitative", "stack": null, "scale": {"domain": [0, 1.7], "nice": false}, "axis": {"title": null, "values": [0, 1], "labels": true}},
                "fill": {"field": "lab", "type": "nominal", "sort": {"field": "o", "op": "min"}, "scale": {"range": ["rgba(251,125,42,0.65)", "rgba(18,181,176,0.62)"]}, "legend": {"title": null}},
                "stroke": {"field": "lab", "type": "nominal", "sort": {"field": "o", "op": "min"}, "scale": {"range": ["#f97a2c", "#17b5b0"]}, "legend": {"title": null}}}},
              {"data": {"name": "means"}, "transform": [{"filter": "datum.p == 'b1'"}], "mark": {"type": "rule", "color": "#2b2b2b", "strokeWidth": 1.5, "strokeDash": [4, 2.5]}, "encoding": {"x": {"field": "m", "type": "quantitative"}, "y": {"field": "h", "type": "quantitative"}, "y2": {"datum": 0}}}
            ]},
            {"width": 296, "height": 70, "layer": [
              {"data": {"name": "curves"}, "transform": [{"filter": "datum.p == 'b3'"}], "mark": {"type": "area", "interpolate": "monotone", "strokeWidth": 1.5}, "encoding": {
                "x": {"field": "x", "type": "quantitative", "scale": {"domain": [0.5, 4.95], "nice": false, "zero": false}, "axis": {"title": "GFP-GAN", "values": [1, 1.5, 2, 2.5, 3, 3.5, 4, 4.5], "format": ".1f", "labels": false}},
                "y": {"field": "y", "type": "quantitative", "stack": null, "scale": {"domain": [0, 1.7], "nice": false}, "axis": {"title": null, "values": [0, 1], "labels": false}},
                "fill": {"field": "lab", "type": "nominal", "sort": {"field": "o", "op": "min"}, "scale": {"range": ["rgba(251,125,42,0.65)", "rgba(18,181,176,0.62)"]}, "legend": {"title": null}},
                "stroke": {"field": "lab", "type": "nominal", "sort": {"field": "o", "op": "min"}, "scale": {"range": ["#f97a2c", "#17b5b0"]}, "legend": {"title": null}}}},
              {"data": {"name": "means"}, "transform": [{"filter": "datum.p == 'b3'"}], "mark": {"type": "rule", "color": "#2b2b2b", "strokeWidth": 1.5, "strokeDash": [4, 2.5]}, "encoding": {"x": {"field": "m", "type": "quantitative"}, "y": {"field": "h", "type": "quantitative"}, "y2": {"datum": 0}}}
            ]}
          ]
        },
        {
          "spacing": 17,
          "resolve": {"scale": {"fill": "independent", "stroke": "independent"}},
          "hconcat": [
            {"width": 296, "height": 70, "layer": [
              {"data": {"name": "curves"}, "transform": [{"filter": "datum.p == 'b2'"}], "mark": {"type": "area", "interpolate": "monotone", "strokeWidth": 1.5}, "encoding": {
                "x": {"field": "x", "type": "quantitative", "scale": {"domain": [0.5, 4.95], "nice": false, "zero": false}, "axis": {"title": "RestoreFormer", "values": [1, 1.5, 2, 2.5, 3, 3.5, 4, 4.5], "format": ".1f", "labels": false}},
                "y": {"field": "y", "type": "quantitative", "stack": null, "scale": {"domain": [0, 1.7], "nice": false}, "axis": {"title": null, "values": [0, 1], "labels": true}},
                "fill": {"field": "lab", "type": "nominal", "sort": {"field": "o", "op": "min"}, "scale": {"range": ["rgba(251,125,42,0.65)", "rgba(18,181,176,0.62)"]}, "legend": {"title": null}},
                "stroke": {"field": "lab", "type": "nominal", "sort": {"field": "o", "op": "min"}, "scale": {"range": ["#f97a2c", "#17b5b0"]}, "legend": {"title": null}}}},
              {"data": {"name": "means"}, "transform": [{"filter": "datum.p == 'b2'"}], "mark": {"type": "rule", "color": "#2b2b2b", "strokeWidth": 1.5, "strokeDash": [4, 2.5]}, "encoding": {"x": {"field": "m", "type": "quantitative"}, "y": {"field": "h", "type": "quantitative"}, "y2": {"datum": 0}}}
            ]},
            {"width": 296, "height": 70, "layer": [
              {"data": {"name": "curves"}, "transform": [{"filter": "datum.p == 'b4'"}], "mark": {"type": "area", "interpolate": "monotone", "strokeWidth": 1.5}, "encoding": {
                "x": {"field": "x", "type": "quantitative", "scale": {"domain": [0.5, 4.95], "nice": false, "zero": false}, "axis": {"title": "VQFR", "values": [1, 1.5, 2, 2.5, 3, 3.5, 4, 4.5], "format": ".1f", "labels": false}},
                "y": {"field": "y", "type": "quantitative", "stack": null, "scale": {"domain": [0, 1.7], "nice": false}, "axis": {"title": null, "values": [0, 1], "labels": false}},
                "fill": {"field": "lab", "type": "nominal", "sort": {"field": "o", "op": "min"}, "scale": {"range": ["rgba(251,125,42,0.65)", "rgba(18,181,176,0.62)"]}, "legend": {"title": null}},
                "stroke": {"field": "lab", "type": "nominal", "sort": {"field": "o", "op": "min"}, "scale": {"range": ["#f97a2c", "#17b5b0"]}, "legend": {"title": null}}}},
              {"data": {"name": "means"}, "transform": [{"filter": "datum.p == 'b4'"}], "mark": {"type": "rule", "color": "#2b2b2b", "strokeWidth": 1.5, "strokeDash": [4, 2.5]}, "encoding": {"x": {"field": "m", "type": "quantitative"}, "y": {"field": "h", "type": "quantitative"}, "y2": {"datum": 0}}}
            ]}
          ]
        },
        {
          "spacing": 17,
          "resolve": {"scale": {"fill": "independent", "stroke": "independent"}},
          "hconcat": [
            {"width": 296, "height": 70, "layer": [
              {"data": {"name": "curves"}, "transform": [{"filter": "datum.p == 'b5'"}], "mark": {"type": "area", "interpolate": "monotone", "strokeWidth": 1.5}, "encoding": {
                "x": {"field": "x", "type": "quantitative", "scale": {"domain": [0.5, 4.95], "nice": false, "zero": false}, "axis": {"title": "BasicVSR", "values": [1, 1.5, 2, 2.5, 3, 3.5, 4, 4.5], "format": ".1f", "labels": true}},
                "y": {"field": "y", "type": "quantitative", "stack": null, "scale": {"domain": [0, 1.7], "nice": false}, "axis": {"title": null, "values": [0, 1], "labels": true}},
                "fill": {"field": "lab", "type": "nominal", "sort": {"field": "o", "op": "min"}, "scale": {"range": ["rgba(251,125,42,0.65)", "rgba(18,181,176,0.62)"]}, "legend": {"title": null}},
                "stroke": {"field": "lab", "type": "nominal", "sort": {"field": "o", "op": "min"}, "scale": {"range": ["#f97a2c", "#17b5b0"]}, "legend": {"title": null}}}},
              {"data": {"name": "means"}, "transform": [{"filter": "datum.p == 'b5'"}], "mark": {"type": "rule", "color": "#2b2b2b", "strokeWidth": 1.5, "strokeDash": [4, 2.5]}, "encoding": {"x": {"field": "m", "type": "quantitative"}, "y": {"field": "h", "type": "quantitative"}, "y2": {"datum": 0}}}
            ]},
            {"width": 296, "height": 70, "layer": [
              {"data": {"name": "curves"}, "transform": [{"filter": "datum.p == 'b6'"}], "mark": {"type": "area", "interpolate": "monotone", "strokeWidth": 1.5}, "encoding": {
                "x": {"field": "x", "type": "quantitative", "scale": {"domain": [0.5, 4.95], "nice": false, "zero": false}, "axis": {"title": "BasicVSR-GAN", "values": [1, 1.5, 2, 2.5, 3, 3.5, 4, 4.5], "format": ".1f", "labels": true}},
                "y": {"field": "y", "type": "quantitative", "stack": null, "scale": {"domain": [0, 1.7], "nice": false}, "axis": {"title": null, "values": [0, 1], "labels": false}},
                "fill": {"field": "lab", "type": "nominal", "sort": {"field": "o", "op": "min"}, "scale": {"range": ["rgba(251,125,42,0.65)", "rgba(18,181,176,0.62)"]}, "legend": {"title": null}},
                "stroke": {"field": "lab", "type": "nominal", "sort": {"field": "o", "op": "min"}, "scale": {"range": ["#f97a2c", "#17b5b0"]}, "legend": {"title": null}}}},
              {"data": {"name": "means"}, "transform": [{"filter": "datum.p == 'b6'"}], "mark": {"type": "rule", "color": "#2b2b2b", "strokeWidth": 1.5, "strokeDash": [4, 2.5]}, "encoding": {"x": {"field": "m", "type": "quantitative"}, "y": {"field": "h", "type": "quantitative"}, "y2": {"datum": 0}}}
            ]}
          ]
        }
      ]
    }
  ]
}
